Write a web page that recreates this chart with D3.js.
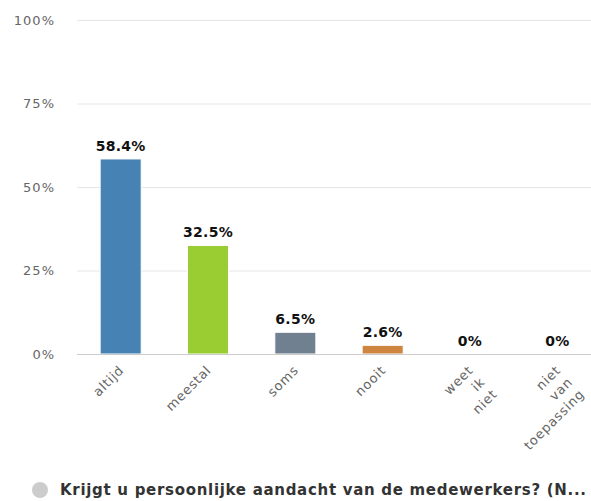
<!DOCTYPE html>
<meta charset="utf-8">
<script src="https://cdn.jsdelivr.net/npm/d3@7/dist/d3.min.js"></script>
<style>
body { margin: 0; background: #fff; }
text { font-family: "DejaVu Sans", Verdana, sans-serif; }
.grid line { stroke: #e6e6e6; stroke-width: 1px; }
.ytick { fill: #666; font-size: 13px; letter-spacing: 1px; }
.xlab { fill: #666; font-size: 13px; letter-spacing: 0.8px; }
.val { fill: #111; font-size: 14px; font-weight: bold; letter-spacing: 0.3px; }
.legend { fill: #333; font-size: 15px; font-weight: bold; letter-spacing: 0.7px; }
</style>
<body>
<script>

// answers and their share of respondents
var categories = ["altijd", "meestal", "soms", "nooit", "weet ik niet", "niet van toepassing"];
var values = [58.4, 32.5, 6.5, 2.6, 0, 0];
var colors = ["#4682b4", "#9acd32", "#708090", "#cd853f", "#a9a9a9", "#8b4513"];
var yTicks = [0, 25, 50, 75, 100];
var legendLabel = "Krijgt u persoonlijke aandacht van de medewerkers? (N...";

var width = 591,
    height = 501;

var svg = d3.select("body").append("svg")
    .attr("width", width)
    .attr("height", height);

var x = d3.scaleBand()
    .domain(categories)
    .range([77, 601])
    .paddingInner(0.53)
    .paddingOuter(0.265);

var y = d3.scaleLinear()
    .domain([0, 100])
    .range([354, 20]);

// horizontal grid
svg.append("g").attr("class", "grid")
  .selectAll("line")
  .data(yTicks.filter(function(d) { return d > 0; }))
  .enter().append("line")
    .attr("x1", 77)
    .attr("x2", 601)
    .attr("y1", function(d) { return y(d) + 0.5; })
    .attr("y2", function(d) { return y(d) + 0.5; });

// y labels
svg.append("g")
  .selectAll("text")
  .data(yTicks)
  .enter().append("text")
    .attr("class", "ytick")
    .attr("x", 55)
    .attr("y", function(d) { return y(d) + 4.5; })
    .attr("text-anchor", "end")
    .text(function(d) { return d + "%"; });

// bars
svg.append("g")
  .selectAll("rect")
  .data(values)
  .enter().append("rect")
    .attr("x", function(d, i) { return x(categories[i]); })
    .attr("y", function(d) { return y(d); })
    .attr("width", x.bandwidth())
    .attr("height", function(d) { return y(0) - y(d); })
    .attr("fill", function(d, i) { return colors[i]; })
    .attr("stroke", "#fff")
    .attr("stroke-width", 1);

// baseline
svg.append("line")
    .attr("x1", 77).attr("x2", 601)
    .attr("y1", y(0) + 0.5).attr("y2", y(0) + 0.5)
    .attr("stroke", "#ccc");

// value labels
svg.append("g")
  .selectAll("text")
  .data(values)
  .enter().append("text")
    .attr("class", "val")
    .attr("x", function(d, i) { return x(categories[i]) + x.bandwidth() / 2; })
    .attr("y", function(d) { return y(d) - 8; })
    .attr("text-anchor", "middle")
    .text(function(d) { return d + "%"; });

// rotated category labels, one word per line
var xl = svg.append("g")
  .selectAll("text")
  .data(categories)
  .enter().append("text")
    .attr("class", "xlab")
    .attr("text-anchor", "end")
    .attr("transform", function(d) {
      return "translate(" + (x(d) + x.bandwidth() / 2 + 4) + "," + (y(0) + 17) + ") rotate(-45)";
    });

xl.selectAll("tspan")
  .data(function(d) { return d.split(" "); })
  .enter().append("tspan")
    .attr("x", 0)
    .attr("dy", function(d, i) { return i ? "1.3em" : 0; })
    .text(function(d) { return d; });

// legend
svg.append("circle")
    .attr("cx", 40)
    .attr("cy", 490)
    .attr("r", 8)
    .attr("fill", "#ccc");

svg.append("text")
    .attr("class", "legend")
    .attr("x", 60)
    .attr("y", 495)
    .text(legendLabel);

</script>
</body>
